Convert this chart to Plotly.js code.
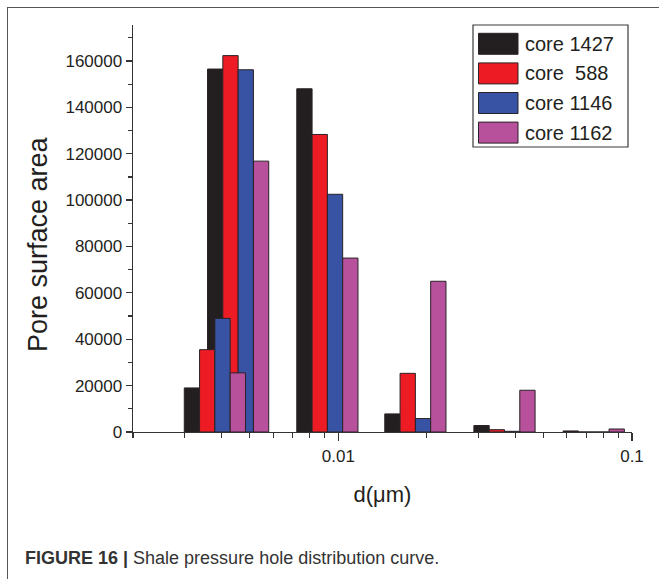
<!DOCTYPE html>
<html>
<head>
<meta charset="utf-8">
<script src="https://cdn.plot.ly/plotly-3.0.1.min.js"></script>
<style>
  html, body { margin: 0; padding: 0; background: #fff; }
  #wrap { position: relative; width: 659px; height: 579px; overflow: hidden; }
  #chart { position: absolute; left: 0; top: 0; width: 659px; height: 579px; }
  #frame { position: absolute; left: 7px; top: 7px; width: 700px; height: 700px;
           border-left: 1.5px solid #555; border-top: 1.5px solid #555; pointer-events: none; }
</style>
</head>
<body>
<div id="wrap">
  <div id="chart"></div>
  <div id="frame"></div>
</div>
<script>
// ---- data ----
const diameters = [0.0038, 0.00456, 0.00918, 0.0183, 0.0368, 0.0741]; // d (µm), group centres
const seriesNames = ['core 1427', 'core  588', 'core 1146', 'core 1162'];
const core1427 = [19000, 156500, 148000, 7800, 2800, 450];
const core588  = [35500, 162300, 128300, 25300, 1000, 0];
const core1146 = [49000, 156200, 102500, 5800, 300, 0];
const core1162 = [25500, 116800, 75000, 65000, 18000, 1300];
const xTickVals = [0.01, 0.1];
const xTickText = ['0.01', '0.1'];
const xMinorTicks = [0.002, 0.003, 0.004, 0.005, 0.006, 0.007, 0.008, 0.009,
                     0.02, 0.03, 0.04, 0.05, 0.06, 0.07, 0.08, 0.09];
const xTitle = 'd(μm)';
const yTitle = 'Pore surface area';
const caption = '<b>FIGURE 16 |</b> Shale pressure hole distribution curve.';

// ---- styles ----
const seriesValues = [core1427, core588, core1146, core1162];
const colors = ['#231f20', '#ed1c24', '#3853a4', '#b7519c'];
const outline = '#2a2226';
const FONT = '"Liberation Sans", Arial, Helvetica, sans-serif';
const TXT = '#231f20';

const W = 659, H = 579;
const M = {l: 133, r: 27, t: 25, b: 147};
const plotW = W - M.l - M.r, plotH = H - M.t - M.b;
const xRange = [Math.log10(0.002), -1];
const yRange = [0, 175500];

// bar width in decades (log space), 4 bars per group
const BW = 15.3 / plotW * (xRange[1] - xRange[0]);

const traces = seriesValues.map((vals, k) => {
  const offs = [], wids = [];
  diameters.forEach(dv => {
    const lc = Math.log10(dv) + (k - 1.5) * BW;
    const left = Math.pow(10, lc - BW / 2);
    const right = Math.pow(10, lc + BW / 2);
    offs.push(left - dv);
    wids.push(right - left);
  });
  return {
    type: 'bar',
    name: seriesNames[k],
    x: diameters,
    y: vals,
    offset: offs,
    width: wids,
    marker: {color: colors[k], line: {color: outline, width: 1}},
    showlegend: false,
    hoverinfo: 'x+y+name'
  };
});

// helpers: pixel -> paper
const px = p => (p - M.l) / plotW;
const py = p => (H - M.b - p) / plotH;

const shapes = [];
const annotations = [];
// custom legend
shapes.push({type: 'rect', xref: 'paper', yref: 'paper',
  x0: px(473), x1: px(628), y0: py(147), y1: py(25),
  line: {color: '#3a3a3a', width: 1.2}, fillcolor: 'rgba(255,255,255,1)', layer: 'above'});
const rowTop = [33.3, 62.9, 92.5, 122.1];
seriesNames.forEach((nm, k) => {
  shapes.push({type: 'rect', xref: 'paper', yref: 'paper',
    x0: px(478.5), x1: px(518), y0: py(rowTop[k] + 21), y1: py(rowTop[k]),
    line: {color: outline, width: 1}, fillcolor: colors[k], layer: 'above'});
  annotations.push({xref: 'paper', yref: 'paper', x: px(523), y: py(rowTop[k] + 10.5),
    xanchor: 'left', yanchor: 'middle', showarrow: false,
    text: nm.replace(/  /g, '&nbsp; '), font: {family: FONT, size: 20, color: TXT}});
});
// y axis title (placed as in the original, slightly below the plot centre)
annotations.push({xref: 'paper', yref: 'paper', x: px(38), y: py(244),
  xanchor: 'center', yanchor: 'middle', textangle: -90, showarrow: false,
  text: yTitle, font: {family: FONT, size: 27, color: TXT}});
// caption
annotations.push({xref: 'paper', yref: 'paper', x: px(23), y: py(558),
  xanchor: 'left', yanchor: 'middle', showarrow: false, text: caption,
  font: {family: FONT, size: 18, color: '#333'}});

const layout = {
  width: W, height: H,
  margin: M,
  paper_bgcolor: 'rgba(0,0,0,0)', plot_bgcolor: 'rgba(0,0,0,0)',
  barmode: 'overlay',
  font: {family: FONT, color: TXT},
  showlegend: false,
  xaxis: {
    type: 'log', range: xRange,
    tickmode: 'array', tickvals: xTickVals, ticktext: xTickText,
    ticks: 'outside', ticklen: 8, tickwidth: 1.2, tickcolor: '#333',
    minor: {tickmode: 'array', tickvals: xMinorTicks, ticks: 'outside', ticklen: 5, tickwidth: 1.2, tickcolor: '#333', showgrid: false},
    showline: true, linecolor: '#333', linewidth: 1.4,
    showgrid: false, zeroline: false,
    tickfont: {family: FONT, size: 17, color: TXT},
    title: {text: xTitle, font: {family: FONT, size: 22, color: TXT}, standoff: 22}
  },
  yaxis: {
    range: yRange, tick0: 0, dtick: 20000, tickformat: 'd',
    ticks: 'outside', ticklen: 6, tickwidth: 1.2, tickcolor: '#333',
    minor: {dtick: 10000, ticks: 'outside', ticklen: 4, tickwidth: 1.2, tickcolor: '#333', showgrid: false},
    showline: true, linecolor: '#333', linewidth: 1.4,
    showgrid: false, zeroline: false,
    tickfont: {family: FONT, size: 17, color: TXT}
  },
  shapes: shapes,
  annotations: annotations
};

Plotly.newPlot('chart', traces, layout, {displayModeBar: false, staticPlot: true});
</script>
</body>
</html>
